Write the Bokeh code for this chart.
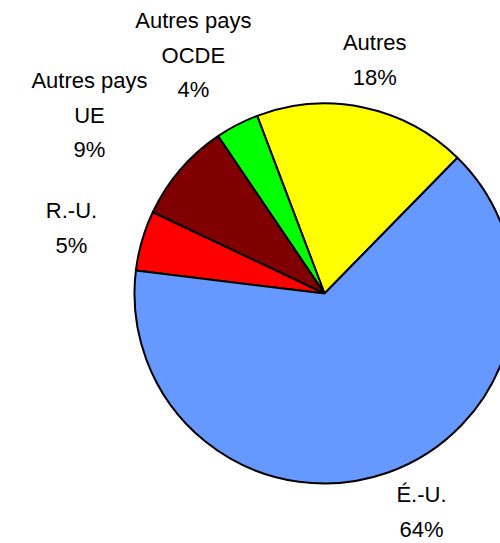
import math
from bokeh.plotting import figure
from bokeh.models import Range1d, ColumnDataSource
from bokeh.core.properties import value
from bokeh.embed import file_html
from bokeh.resources import INLINE

# ---- data ----
categories = ["Autres", "Autres pays\nOCDE", "Autres pays\nUE", "R.-U.", "É.-U."]
shares = [18.1, 3.7, 8.5, 5.1, 64.6]
pct_labels = ["18%", "4%", "9%", "5%", "64%"]
colors = ["#FFFF00", "#00FF00", "#800000", "#FF0000", "#6699FF"]

# ---- layout / style ----
W, H = 500, 543
CX, CY, R = 324, 250, 190
START_DEG = 45.6
label_r = [231.5, 265.4, 290.6, 259.6, 246.0]
label_nudge = [-0.7, 2.2, 4.6, 3.2, 3.9]
LINE_STEP = 34.5
TEXT_SHIFT = 7.5
FONT = "Liberation Sans"
FSIZE = "22px"

total = sum(shares)
starts, ends, mids = [], [], []
a = math.radians(START_DEG)
for v in shares:
    da = 2 * math.pi * v / total
    starts.append(a)
    ends.append(a + da)
    mids.append(a + da / 2)
    a += da

p = figure(width=W, height=H, output_backend="svg", toolbar_location=None,
           x_range=Range1d(0, W), y_range=Range1d(0, H),
           x_axis_type=None, y_axis_type=None, min_border=0)
p.outline_line_color = None
p.grid.visible = False
p.background_fill_color = "white"
p.border_fill_color = "white"

src = ColumnDataSource(dict(x=[CX] * len(shares), y=[CY] * len(shares),
                            start=starts, end=ends, color=colors))
p.wedge(x="x", y="y", radius=R, radius_units="data", start_angle="start",
        end_angle="end", direction="anticlock", fill_color="color",
        line_color="black", line_width=2, source=src)

tx, ty, tt = [], [], []
for i, cat in enumerate(categories):
    ang = mids[i] + math.radians(label_nudge[i])
    bx = CX + label_r[i] * math.cos(ang)
    by = CY + label_r[i] * math.sin(ang) + TEXT_SHIFT
    lines = cat.split("\n") + [pct_labels[i]]
    n = len(lines)
    for j, ln in enumerate(lines):
        tx.append(bx)
        ty.append(by + ((n - 1) / 2 - j) * LINE_STEP)
        tt.append(ln)

p.text(x=tx, y=ty, text=tt, text_align="center", text_baseline="alphabetic",
       text_font=value(FONT), text_font_size=FSIZE, text_color="black")

open("out.html", "w").write(file_html(p, INLINE))
